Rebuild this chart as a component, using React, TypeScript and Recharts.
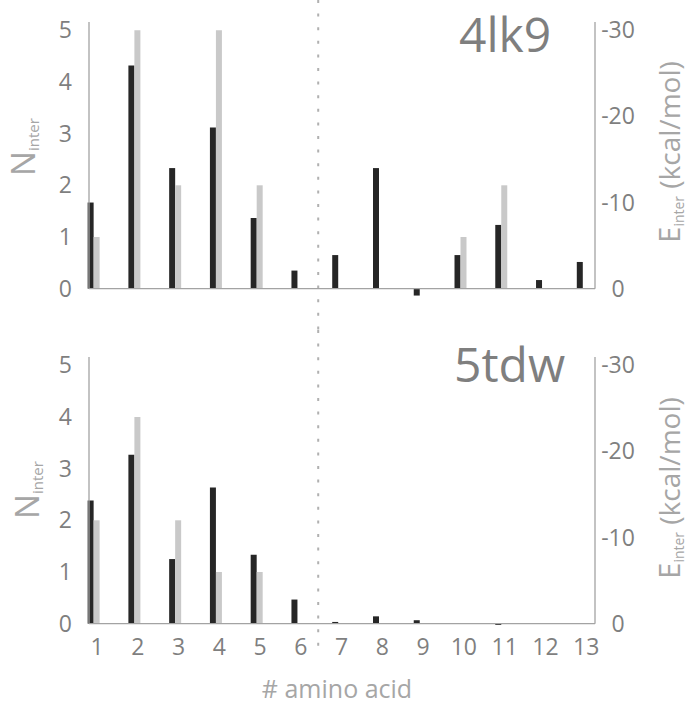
import React from "react";
import { BarChart, Bar, XAxis, YAxis, ReferenceLine } from "recharts";

// amino acid positions along the peptide
const aminoAcids = [1, 2, 3, 4, 5, 6, 7, 8, 9, 10, 11, 12, 13];

// 4lk9: number of interactions and interaction energy per residue
const nInter4lk9 = [1, 5, 2, 5, 2, 0, 0, 0, 0, 1, 2, 0, 0];
const eInter4lk9 = [-10.0, -25.9, -14.0, -18.7, -8.2, -2.1, -3.9, -14.0, 0.8, -3.9, -7.4, -1.0, -3.1];

// 5tdw
const nInter5tdw = [2, 4, 2, 1, 1, 0, 0, 0, 0, 0, 0, 0, 0];
const eInter5tdw = [-14.3, -19.6, -7.5, -15.8, -8.0, -2.8, -0.2, -0.85, -0.4, 0, 0.15, 0, 0];

const nTicks = [0, 1, 2, 3, 4, 5];
const eTicks = [0, -10, -20, -30];

const FONT = "'Open Sans', 'DejaVu Sans', sans-serif";
const TICK_COLOR = "#7f7f7f";
const TITLE_COLOR = "#a6a6a6";
const AXIS_COLOR = "#a3a3a3";
const DARK = "#262626";
const LIGHT = "#c9c9c9";

const X_DOMAIN: [number, number] = [0.877, 13.29];
const N_DOMAIN: [number, number] = [-0.2, 5.16];
const E_DOMAIN: [number, number] = [-30.96, 1.2];

function LeftTick(props: any) {
  const { x, y, payload } = props;
  return (
    <text x={x} y={y} dy="0.35em" textAnchor="end" fill={TICK_COLOR} fontSize={23} fontFamily={FONT}>
      {payload.value}
    </text>
  );
}

function RightTick(props: any) {
  const { x, y, payload } = props;
  return (
    <text x={x} y={y} dy="0.35em" textAnchor="middle" fill={TICK_COLOR} fontSize={23} fontFamily={FONT}>
      {payload.value}
    </text>
  );
}

function BottomTick(props: any) {
  const { x, y, payload } = props;
  return (
    <text x={x + 3} y={y} dy="0.71em" textAnchor="middle" fill={TICK_COLOR} fontSize={23} fontFamily={FONT}>
      {payload.value}
    </text>
  );
}

type PanelProps = {
  title: string;
  titleX: number;
  nValues: number[];
  eValues: number[];
  top: number;
  height: number;
  marginTop: number;
  marginBottom: number;
  showXAxis: boolean;
  nTitle: [number, number];
  eTitle: [number, number];
  sep: [number, number];
};

function Panel(p: PanelProps) {
  const data = aminoAcids.map((aa, i) => ({ aa, n: p.nValues[i], e: p.eValues[i] }));

  const nTitle = () => (
    <text
      transform={`translate(${p.nTitle[0]},${p.nTitle[1]}) rotate(-90)`}
      textAnchor="middle"
      fill={TITLE_COLOR}
      fontFamily={FONT}
    >
      <tspan fontSize={33}>N</tspan>
      <tspan fontSize={15} dy={4}>inter</tspan>
    </text>
  );

  const eTitle = () => (
    <text
      transform={`translate(${p.eTitle[0]},${p.eTitle[1]}) rotate(-90)`}
      textAnchor="middle"
      fill={TITLE_COLOR}
      fontFamily={FONT}
    >
      <tspan fontSize={29}>E</tspan>
      <tspan fontSize={14} dy={4}>inter</tspan>
      <tspan fontSize={28} dy={-4}> (kcal/mol)</tspan>
    </text>
  );

  const xTitle = () => (
    <text x={337} y={368} textAnchor="middle" fill={TITLE_COLOR} fontSize={25} fontFamily={FONT}>
      # amino acid
    </text>
  );

  // dotted separator between the two peptide halves, stretched over the panel
  const separator = (props: any) => (
    <line
      x1={props.x1}
      x2={props.x2}
      y1={p.sep[0]}
      y2={p.sep[1]}
      stroke="#b0b0b0"
      strokeWidth={2}
      strokeDasharray="3 10.6"
    />
  );

  return (
    <div style={{ position: "absolute", left: 0, top: p.top }}>
      <BarChart
        width={691}
        height={p.height}
        data={data}
        barGap={0}
        margin={{ top: p.marginTop, right: 0, bottom: p.marginBottom, left: 0 }}
      >
        <XAxis
          dataKey="aa"
          type="number"
          domain={X_DOMAIN}
          ticks={aminoAcids}
          interval={0}
          hide={!p.showXAxis}
          height={30}
          axisLine={false}
          tickLine={false}
          tickSize={0}
          tickMargin={5}
          tick={BottomTick}
          label={p.showXAxis ? xTitle : undefined}
        />
        <YAxis
          yAxisId="n"
          orientation="left"
          width={89}
          domain={N_DOMAIN}
          ticks={nTicks}
          interval={0}
          axisLine={false}
          tickLine={false}
          tickSize={0}
          tickMargin={17}
          tick={LeftTick}
          label={nTitle}
        />
        <YAxis
          yAxisId="e"
          orientation="right"
          width={96}
          reversed
          domain={E_DOMAIN}
          ticks={eTicks}
          interval={0}
          axisLine={false}
          tickLine={false}
          tickSize={0}
          tickMargin={23}
          tick={RightTick}
          label={eTitle}
        />
        <ReferenceLine x={6.5} yAxisId="n" shape={separator} ifOverflow="visible" />
        <Bar dataKey="e" yAxisId="e" fill={DARK} barSize={6} isAnimationActive={false} />
        <Bar dataKey="n" yAxisId="n" fill={LIGHT} barSize={6} isAnimationActive={false} />
        <ReferenceLine y={0} yAxisId="n" stroke={AXIS_COLOR} strokeWidth={1.3} ifOverflow="visible" />
        <ReferenceLine
          yAxisId="n"
          segment={[{ x: X_DOMAIN[0], y: 0 }, { x: X_DOMAIN[0], y: N_DOMAIN[1] }]}
          stroke={AXIS_COLOR}
          strokeWidth={1.3}
          ifOverflow="visible"
        />
        <ReferenceLine
          yAxisId="n"
          segment={[{ x: X_DOMAIN[1], y: 0 }, { x: X_DOMAIN[1], y: N_DOMAIN[1] }]}
          stroke={AXIS_COLOR}
          strokeWidth={1.3}
          ifOverflow="visible"
        />
        <text x={p.titleX} y={52} fill="#7f7f7f" fontSize={48} fontFamily={FONT}>
          {p.title}
        </text>
      </BarChart>
    </div>
  );
}

export default function App() {
  return (
    <div style={{ position: "absolute", left: 0, top: 0, width: 691, height: 707, background: "#fff" }}>
      <Panel
        title="4lk9"
        titleX={459}
        nValues={nInter4lk9}
        eValues={eInter4lk9}
        top={0}
        height={330}
        marginTop={22}
        marginBottom={31}
        showXAxis={false}
        nTitle={[35, 147]}
        eTitle={[680, 152]}
        sep={[0, 330]}
      />
      <Panel
        title="5tdw"
        titleX={454}
        nValues={nInter5tdw}
        eValues={eInter5tdw}
        top={330}
        height={377}
        marginTop={27}
        marginBottom={43}
        showXAxis={true}
        nTitle={[39, 160]}
        eTitle={[680, 158]}
        sep={[0, 320]}
      />
    </div>
  );
}
